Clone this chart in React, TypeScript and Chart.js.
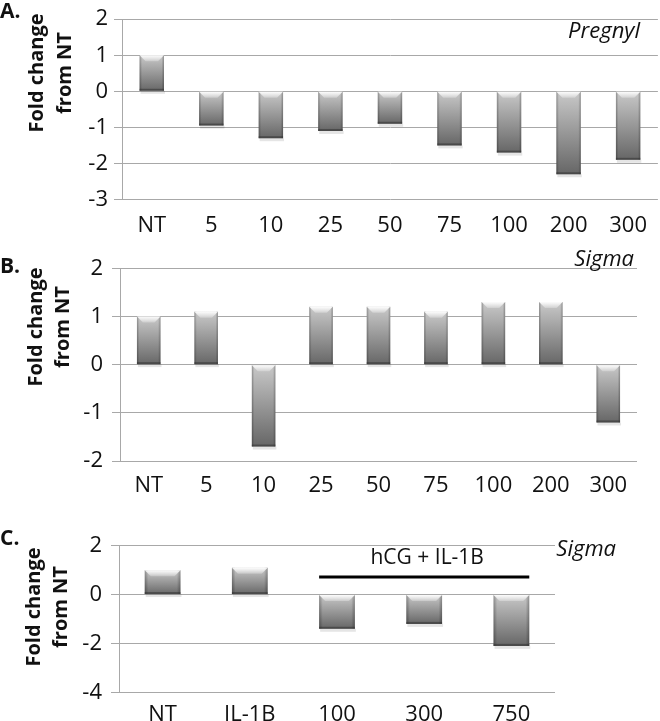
import React, { useEffect, useRef } from "react";
import { Chart, registerables } from "chart.js";

Chart.register(...registerables);

// ---------- data ----------
const catsA = ["NT", "5", "10", "25", "50", "75", "100", "200", "300"];
const valsA = [1, -0.95, -1.3, -1.1, -0.9, -1.5, -1.7, -2.3, -1.9];
const catsB = ["NT", "5", "10", "25", "50", "75", "100", "200", "300"];
const valsB = [1, 1.1, -1.7, 1.2, 1.2, 1.1, 1.3, 1.3, -1.2];
const catsC = ["NT", "IL-1B", "100", "300", "750"];
const valsC = [1, 1.1, -1.4, -1.2, -2.1];

const rangeA = [-3, 2, 1];
const rangeB = [-2, 2, 1];
const rangeC = [-4, 2, 2];

const yTitle = ["Fold change", "from NT"];
const bracketLabel = "hCG + IL-1B";
const bracketFrom = "100";
const bracketTo = "750";
const bracketValue = 0.72;
const bracketTextValue = 1.5;

const FONT = "'Open Sans', 'Liberation Sans', sans-serif";

type PanelCfg = {
  top: number;
  height: number;
  letter: string;
  letterY: number;
  cats: string[];
  vals: number[];
  range: number[];
  axisW: number;
  padTop: number;
  padRight: number;
  xAxisH: number;
  xLabelPad: number;
  tickPad: number;
  titleX1: number;
  titleX2: number;
  titleY: number;
  tag: string;
  tagRight: number;
  tagBaseline: number;
  bracket?: boolean;
};

function Panel(p: PanelCfg) {
  const ref = useRef<HTMLCanvasElement | null>(null);
  useEffect(() => {
    const canvas = ref.current;
    if (!canvas) return;

    const barGradient = (c: any) => {
      const chart = c.chart;
      const ys = chart.scales?.y;
      if (!chart.chartArea || !ys) return "#999";
      const v = c.raw as number;
      const t = ys.getPixelForValue(Math.max(v, 0));
      const b = ys.getPixelForValue(Math.min(v, 0));
      const g = chart.ctx.createLinearGradient(0, t, 0, b);
      g.addColorStop(0, "#c9c9c9");
      g.addColorStop(1, "#666666");
      return g;
    };

    const bevel = {
      id: "bevel",
      afterDatasetsDraw(chart: any) {
        const ctx = chart.ctx;
        const meta = chart.getDatasetMeta(0);
        meta.data.forEach((el: any) => {
          const { x, y, base, width } = el.getProps(["x", "y", "base", "width"], true);
          const left = x - width / 2;
          const right = x + width / 2;
          const top = Math.min(y, base);
          const bot = Math.max(y, base);
          ctx.save();
          // soft shadow below
          ctx.fillStyle = "rgba(0,0,0,0.10)";
          ctx.fillRect(left + 1, bot, width, 3);
          // side shading
          const hg = ctx.createLinearGradient(left, 0, right, 0);
          hg.addColorStop(0, "rgba(0,0,0,0.28)");
          hg.addColorStop(0.1, "rgba(0,0,0,0)");
          hg.addColorStop(0.9, "rgba(0,0,0,0)");
          hg.addColorStop(1, "rgba(0,0,0,0.28)");
          ctx.fillStyle = hg;
          ctx.fillRect(left, top, width, bot - top);
          // top bevel
          const bv = Math.min(6, (bot - top) / 3);
          ctx.beginPath();
          ctx.moveTo(left, top);
          ctx.lineTo(right, top);
          ctx.lineTo(right - bv, top + bv);
          ctx.lineTo(left + bv, top + bv);
          ctx.closePath();
          const tg = ctx.createLinearGradient(0, top, 0, top + bv);
          tg.addColorStop(0, "rgba(255,255,255,0.95)");
          tg.addColorStop(1, "rgba(255,255,255,0.25)");
          ctx.fillStyle = tg;
          ctx.fill();
          // bottom edge
          ctx.fillStyle = "rgba(50,50,50,0.55)";
          ctx.fillRect(left, bot - 2, width, 2);
          ctx.restore();
        });
      },
    };

    const texts = {
      id: "texts",
      afterDraw(chart: any) {
        const ctx = chart.ctx;
        ctx.save();
        ctx.fillStyle = "#111";
        // panel letter
        ctx.font = `bold 21px ${FONT}`;
        ctx.textAlign = "left";
        ctx.textBaseline = "middle";
        ctx.fillText(p.letter, 0, p.letterY);
        // y title
        ctx.font = `bold 20px ${FONT}`;
        ctx.textAlign = "center";
        ctx.textBaseline = "middle";
        [p.titleX1, p.titleX2].forEach((tx, i) => {
          ctx.save();
          ctx.translate(tx, p.titleY);
          ctx.rotate(-Math.PI / 2);
          ctx.fillText(yTitle[i], 0, 0);
          ctx.restore();
        });
        // tag
        ctx.font = `italic 22px ${FONT}`;
        ctx.textAlign = "right";
        ctx.textBaseline = "alphabetic";
        ctx.fillText(p.tag, p.tagRight, p.tagBaseline);
        // bracket
        if (p.bracket) {
          const meta = chart.getDatasetMeta(0);
          const i0 = p.cats.indexOf(bracketFrom);
          const i1 = p.cats.indexOf(bracketTo);
          const e0: any = meta.data[i0];
          const e1: any = meta.data[i1];
          const x0 = e0.x - e0.width / 2;
          const x1 = e1.x + e1.width / 2;
          const ys = chart.scales.y;
          const ly = ys.getPixelForValue(bracketValue);
          ctx.strokeStyle = "#000";
          ctx.lineWidth = 3;
          ctx.beginPath();
          ctx.moveTo(x0, ly);
          ctx.lineTo(x1, ly);
          ctx.stroke();
          ctx.font = `21px ${FONT}`;
          ctx.textAlign = "center";
          ctx.textBaseline = "middle";
          ctx.fillText(bracketLabel, (x0 + x1) / 2 + 3, ys.getPixelForValue(bracketTextValue));
        }
        ctx.restore();
      },
    };

    const chart = new Chart(canvas, {
      type: "bar",
      data: {
        labels: p.cats,
        datasets: [
          {
            data: p.vals,
            backgroundColor: barGradient as any,
            borderWidth: 0,
            barPercentage: 0.41,
            categoryPercentage: 1,
          },
        ],
      },
      options: {
        responsive: false,
        animation: false,
        devicePixelRatio: 1,
        layout: { padding: { top: p.padTop, right: p.padRight, left: 0, bottom: 0 } },
        plugins: { legend: { display: false }, tooltip: { enabled: false }, title: { display: false } },
        scales: {
          x: {
            grid: { display: false, drawTicks: false },
            border: { display: false },
            ticks: {
              color: "#111",
              font: { family: FONT, size: 22 },
              padding: p.xLabelPad,
              maxRotation: 0,
              autoSkip: false,
            },
            afterFit: (s: any) => {
              s.height = p.xAxisH;
            },
          },
          y: {
            min: p.range[0],
            max: p.range[1],
            grid: { color: "#a8a8a8", lineWidth: 1, drawTicks: true, tickLength: 8, tickColor: "#a8a8a8" },
            border: { display: true, color: "#a8a8a8", width: 1 },
            ticks: {
              stepSize: p.range[2],
              color: "#111",
              font: { family: FONT, size: 22 },
              padding: p.tickPad,
            },
            afterFit: (s: any) => {
              s.width = p.axisW;
            },
          },
        },
      },
      plugins: [bevel, texts],
    });
    return () => chart.destroy();
  }, []);
  return (
    <canvas
      ref={ref}
      width={660}
      height={p.height}
      style={{ position: "absolute", left: 0, top: p.top, width: 660, height: p.height }}
    />
  );
}

export default function App() {
  return (
    <div style={{ position: "absolute", left: 0, top: 0, width: 660, height: 721, background: "#fff", overflow: "hidden" }}>
      <Panel
        top={0}
        height={235}
        letter="A."
        letterY={12}
        cats={catsA}
        vals={valsA}
        range={rangeA}
        axisW={122}
        padTop={11}
        padRight={0}
        xAxisH={35.5}
        xLabelPad={13}
        tickPad={6}
        titleX1={37.5}
        titleX2={65}
        titleY={73}
        tag="Pregnyl"
        tagRight={640}
        tagBaseline={38}
      />
      <Panel
        top={235}
        height={270}
        letter="B."
        letterY={32}
        cats={catsB}
        vals={valsB}
        range={rangeB}
        axisW={120}
        padTop={33.3}
        padRight={23}
        xAxisH={44}
        xLabelPad={12}
        tickPad={9}
        titleX1={36}
        titleX2={63.5}
        titleY={92}
        tag="Sigma"
        tagRight={634}
        tagBaseline={31}
      />
      <Panel
        top={505}
        height={216}
        letter="C."
        letterY={34}
        cats={catsC}
        vals={valsC}
        range={rangeC}
        axisW={119}
        padTop={40.7}
        padRight={105}
        xAxisH={28.7}
        xLabelPad={9}
        tickPad={9}
        titleX1={34.5}
        titleX2={61.5}
        titleY={102}
        tag="Sigma"
        tagRight={616}
        tagBaseline={51}
        bracket
      />
    </div>
  );
}
